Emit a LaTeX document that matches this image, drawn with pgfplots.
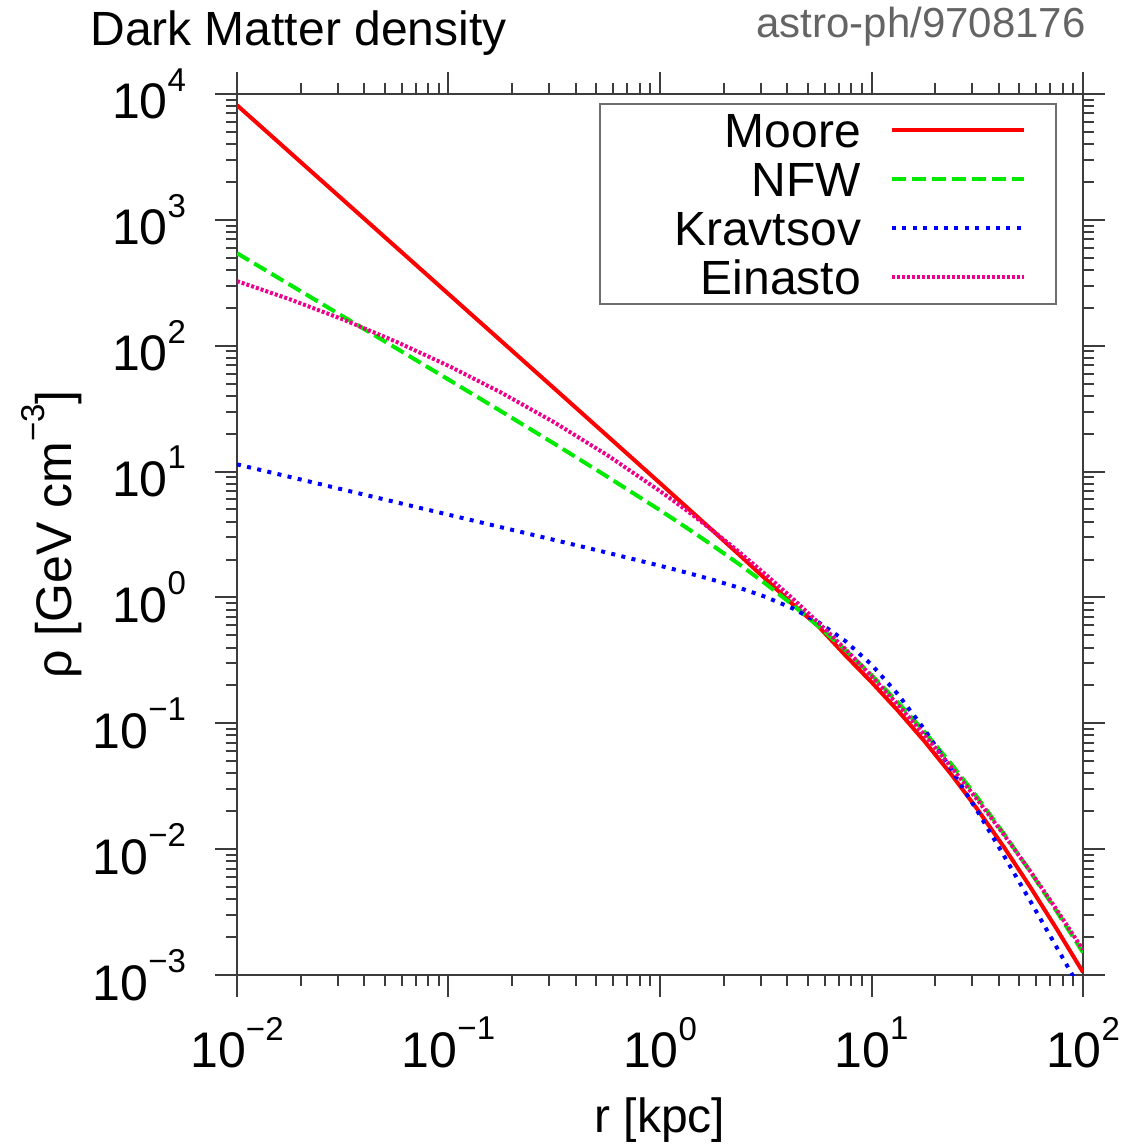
\documentclass[border=0pt]{standalone}
\usepackage{pgfplots}
\pgfplotsset{compat=1.18}
\usepackage{fontspec}
\setmainfont{Liberation Sans}
\usetikzlibrary{calc}
\newcommand{\tl}[1]{10\raisebox{0.55em}{\fontsize{16.5}{16.5}\selectfont #1}}
\definecolor{axgray}{RGB}{60,60,60}
\definecolor{leggray}{RGB}{110,110,110}
\definecolor{srcgray}{RGB}{100,100,100}
\definecolor{nfwgreen}{RGB}{0,235,0}
\begin{document}
\begin{tikzpicture}
\begin{axis}[
  scale only axis, width=423pt, height=440.5pt,
  xmode=log, ymode=log,
  xmin=0.01, xmax=100, ymin=1e-3, ymax=1e4,
  clip mode=individual,
  axis line style={draw=axgray, line width=1pt},
  every tick/.append style={axgray, line width=1pt},
  tick align=outside,
  major tick length=11pt, minor tick length=5.5pt,
  xtick={0.01,0.1,1,10,100},
  xticklabels={\tl{−2},\tl{−1},\tl{0},\tl{1},\tl{2}},
  minor xtick={0.02,0.03,0.04,0.05,0.06,0.07,0.08,0.09,0.2,0.3,0.4,0.5,0.6,0.7,0.8,0.9,2,3,4,5,6,7,8,9,20,30,40,50,60,70,80,90},
  ytick={1e-3,1e-2,1e-1,1,10,100,1000,10000},
  yticklabels={\tl{−3},\tl{−2},\tl{−1},\tl{0},\tl{1},\tl{2},\tl{3},\tl{4}},
  minor ytick={0.002,0.003,0.004,0.005,0.006,0.007,0.008,0.009,0.02,0.03,0.04,0.05,0.06,0.07,0.08,0.09,0.2,0.3,0.4,0.5,0.6,0.7,0.8,0.9,2,3,4,5,6,7,8,9,20,30,40,50,60,70,80,90,200,300,400,500,600,700,800,900,2000,3000,4000,5000,6000,7000,8000,9000},
  tick label style={font=\fontsize{25}{25}\selectfont},
  xticklabel shift=6.5pt,
  yticklabel shift=11pt,
  legend plot pos=right,
  legend cell align=right,
  legend image code/.code={\draw[#1] (0pt,0pt) -- (66pt,0pt);},
  legend style={at={(0.9693,0.9898)}, anchor=north east, draw=leggray, line width=1pt, fill=white,
    inner xsep=15pt, inner ysep=1pt, row sep=0pt,
    font=\fontsize{24}{24}\selectfont,
    nodes={text width=115.5pt, align=right, inner sep=0pt, text height=20.85pt, text depth=3.65pt},
    /tikz/every odd column/.append style={column sep=14.5pt}},
]
\addplot[red, line width=2pt] coordinates {
(0.01,8150) (0.017783,3436) (0.031623,1449) (0.056234,611) (0.1,257.6) (0.177828,108.6) (0.316228,45.78) (0.562341,19.27) (1,8.093) (1.778279,3.382) (2.371374,2.178) (3.162278,1.396) (4.216965,0.8891) (5.623413,0.5871) (7.498942,0.3485) (10,0.2124) (13.335214,0.1259) (17.782794,0.07216) (23.713737,0.03967) (31.622777,0.02083) (42.16965,0.010448) (56.234133,5.024e-3) (74.989421,2.331e-3) (100,1.0514e-3)};
\addlegendentry{Moore}
\addplot[nfwgreen, line width=2pt, dash pattern=on 7pt off 3pt] coordinates {
(0.01,543.1) (0.017783,305.1) (0.031623,171.3) (0.056234,96.12) (0.1,53.82) (0.177828,30.03) (0.316228,16.66) (0.562341,9.124) (1,4.931) (1.333521,3.583) (1.778279,2.578) (2.371374,1.8324) (3.162278,1.2817) (4.216965,0.8793) (5.623413,0.5889) (7.498942,0.3834) (10,0.2416) (13.335214,0.14670) (17.782794,0.08566) (23.713737,0.04798) (31.622777,0.02580) (42.16965,0.013337) (56.234133,6.652e-3) (74.989421,3.213e-3) (100,1.510e-3)};
\addlegendentry{NFW}
\addplot[blue, line width=2pt, dash pattern=on 2pt off 3.2pt] coordinates {
(0.01,11.41) (0.017783,9.064) (0.031623,7.199) (0.056234,5.719) (0.1,4.543) (0.177828,3.607) (0.316228,2.862) (0.562341,2.268) (1,1.785) (1.333521,1.5757) (1.778279,1.3797) (2.371374,1.1924) (3.162278,1.0081) (4.216965,0.8221) (5.623413,0.6341) (7.498942,0.4521) (10,0.2924) (13.335214,0.17002) (17.782794,0.08955) (23.713737,0.04364) (31.622777,0.02011) (42.16965,8.94e-3) (56.234133,3.888e-3) (74.989421,1.669e-3) (86.596432,1.0896e-3) (100,7.106e-4)};
\addlegendentry{Kravtsov}
\addplot[magenta, line width=2pt, dash pattern=on 1.5pt off 1pt] coordinates {
(0.01,326.0) (0.017783,233.7) (0.031623,162.0) (0.056234,108.1) (0.1,69.22) (0.177828,42.32) (0.316228,24.61) (0.562341,13.53) (1,6.995) (1.333521,4.927) (1.778279,3.387) (2.371374,2.290) (3.162278,1.5193) (4.216965,0.9877) (5.623413,0.6280) (7.498942,0.3906) (10,0.2371) (13.335214,0.14046) (17.782794,0.08101) (23.713737,0.04546) (31.622777,0.02476) (42.16965,0.013090) (56.234133,6.700e-3) (74.989421,3.316e-3) (100,1.584e-3)};
\addlegendentry{Einasto}
\node[anchor=base west, font=\fontsize{24}{24}\selectfont, inner sep=0pt] at (axis description cs:-0.1738,1.0556) {Dark Matter density};
\node[anchor=base east, font=\fontsize{21}{21}\selectfont, text=srcgray, inner sep=0pt] at (axis description cs:1.0035,1.0636) {astro-ph/9708176};
\node[rotate=90, font=\fontsize{25}{25}\selectfont, inner sep=0pt] at (axis description cs:-0.219,0.5) {ρ [GeV cm\raisebox{0.55em}{\fontsize{16.5}{16.5}\selectfont −3}]};
\node[anchor=base, font=\fontsize{24}{24}\selectfont, inner sep=0pt] at (axis description cs:0.5,-0.1793) {r [kpc]};
\end{axis}
\pgfresetboundingbox
\path[use as bounding box] ($(current axis.south west)+(-118.5pt,-84.5pt)$) rectangle ($(current axis.north east)+(22.5pt,47pt)$);
\end{tikzpicture}
\end{document}
